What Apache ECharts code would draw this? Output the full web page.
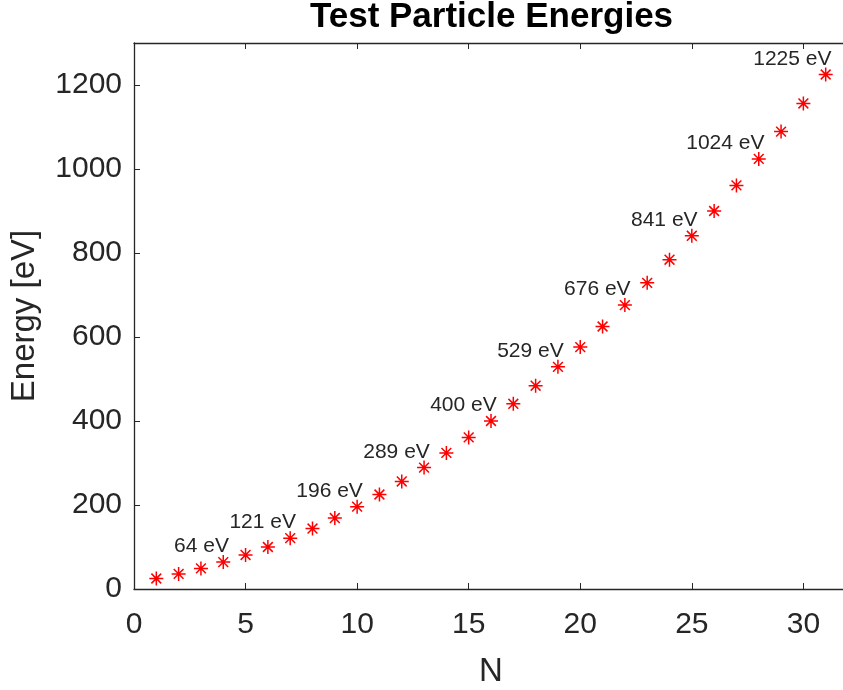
<!DOCTYPE html>
<html>
<head>
<meta charset="utf-8">
<script src="https://cdn.jsdelivr.net/npm/echarts@6/dist/echarts.min.js"></script>
<style>html,body{margin:0;padding:0;background:#fff}#c{width:843px;height:690px}</style>
</head>
<body>
<div id="c"></div>
<script>
const N = [1,2,3,4,5,6,7,8,9,10,11,12,13,14,15,16,17,18,19,20,21,22,23,24,25,26,27,28,29,30,31];
const energy = [25,36,49,64,81,100,121,144,169,196,225,256,289,324,361,400,441,484,529,576,625,676,729,784,841,900,961,1024,1089,1156,1225];
const labeledN = [4,7,10,13,16,19,22,25,28,31];
const xTickLabels = [0,5,10,15,20,25,30];
const yTickLabels = [0,200,400,600,800,1000,1200];

const FONT = "'Liberation Sans', Arial, Helvetica, sans-serif";
const AX = '#262626';

const data = N.map((n, i) => ({
  value: [n, energy[i]],
  label: { show: labeledN.includes(n) }
}));

const chart = echarts.init(document.getElementById('c'), null, {renderer: 'canvas'});

function axisLine() { return { show: true, onZero: false, lineStyle: { color: AX, width: 1.3 } }; }
function axisTick() { return { show: true, inside: true, length: 6, lineStyle: { color: AX, width: 1 } }; }

chart.setOption({
  animation: false,
  backgroundColor: '#fff',
  grid: { left: 134, top: 43, width: 714, bottom: 101, containLabel: false, outerBoundsMode: 'none' },
  graphic: [{
    type: 'text', x: 491.5, y: 17,
    style: { text: 'Test Particle Energies', font: "bold 35px " + FONT, fill: '#000', align: 'center', verticalAlign: 'middle' }
  }],
  xAxis: [
    {
      type: 'value', min: 0, max: 32, interval: 5, position: 'bottom',
      axisLine: axisLine(), axisTick: axisTick(), splitLine: { show: false },
      name: 'N', nameLocation: 'middle', nameGap: 66,
      nameTextStyle: { fontFamily: FONT, fontSize: 33, color: AX },
      axisLabel: { fontFamily: FONT, fontSize: 30, color: AX, margin: 21, showMaxLabel: false,
        formatter: v => xTickLabels.includes(v) ? String(v) : '' }
    },
    {
      type: 'value', min: 0, max: 32, interval: 5, position: 'top',
      axisLine: axisLine(), axisTick: axisTick(), splitLine: { show: false },
      axisLabel: { show: false }
    }
  ],
  yAxis: [
    {
      type: 'value', min: 0, max: 1300, interval: 200, position: 'left',
      axisLine: axisLine(), axisTick: axisTick(), splitLine: { show: false },
      name: 'Energy [eV]', nameLocation: 'middle', nameGap: 93, nameRotate: 90,
      nameTextStyle: { fontFamily: FONT, fontSize: 33, color: AX },
      axisLabel: { fontFamily: FONT, fontSize: 30, color: AX, margin: 12, showMaxLabel: false,
        formatter: v => yTickLabels.includes(v) ? String(v) : '' }
    }
  ],
  series: [{
    type: 'scatter',
    data: data,
    symbol: 'path://M10,0L10,20M0,10L20,10M3,3L17,17M3,17L17,3',
    symbolSize: 14,
    itemStyle: { color: 'rgba(0,0,0,0)', borderColor: '#ff0000', borderWidth: 1.5, opacity: 1 },
    label: {
      position: [13.5, -8], align: 'right', verticalAlign: 'middle',
      fontFamily: FONT, fontSize: 21, color: AX, opacity: 1,
      formatter: p => p.value[1] + ' eV'
    },
    emphasis: { disabled: true }
  }]
});
</script>
</body>
</html>
